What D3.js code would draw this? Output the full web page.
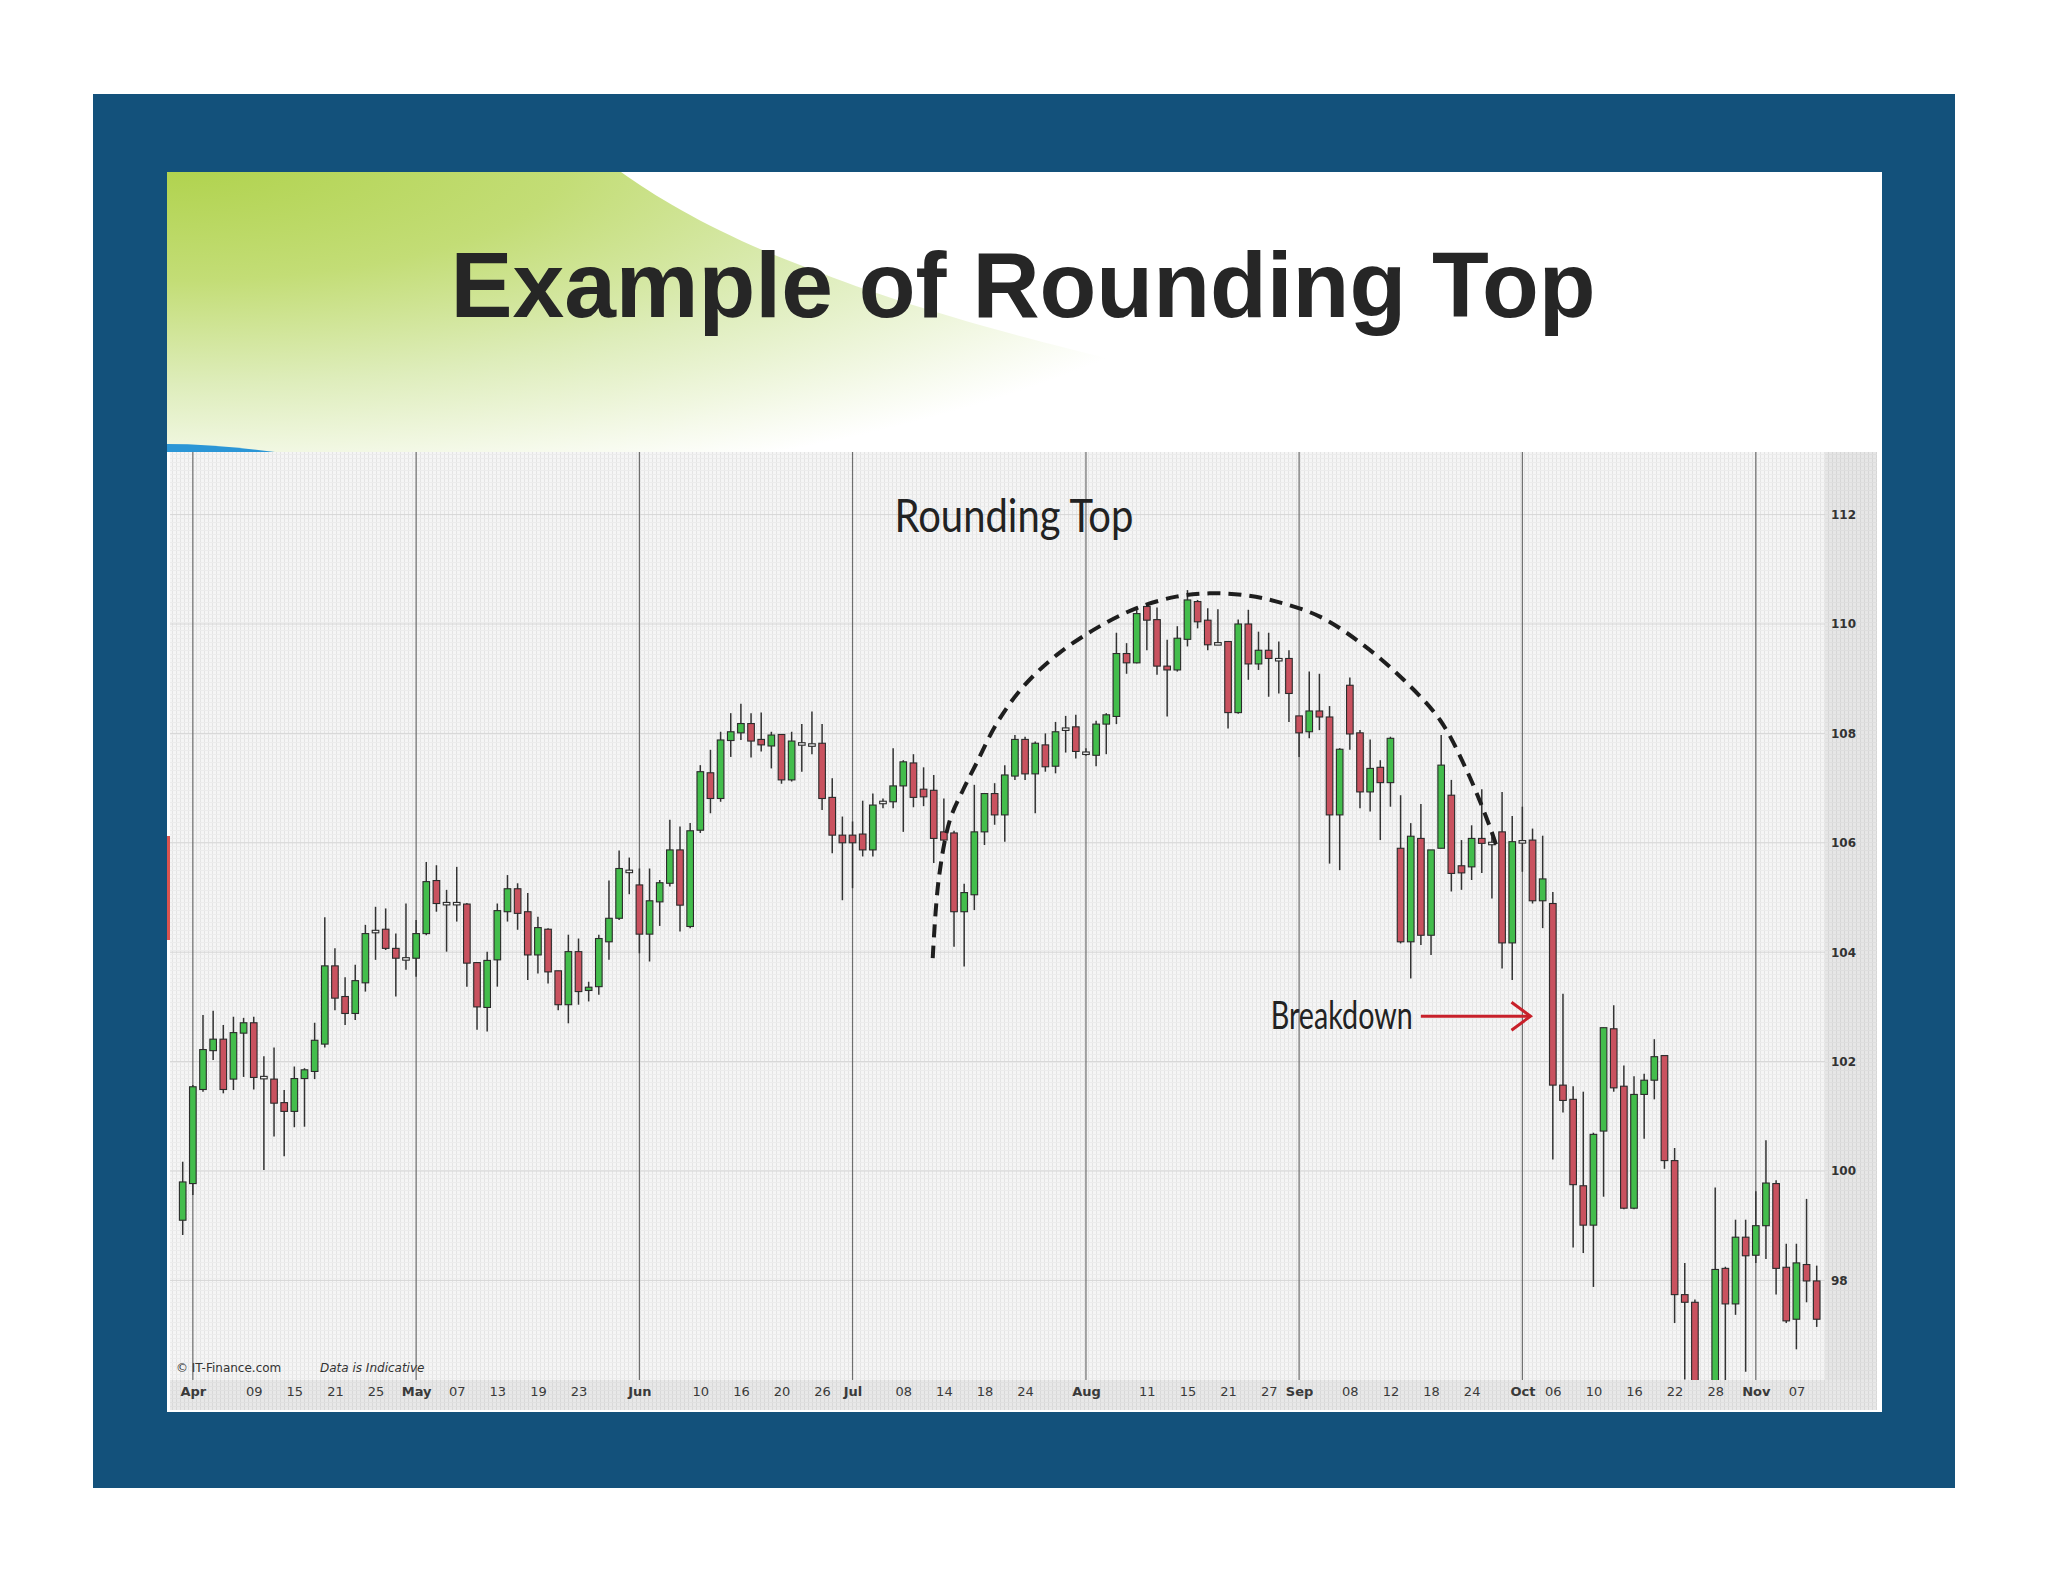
<!DOCTYPE html>
<html><head><meta charset="utf-8">
<script src="https://cdn.jsdelivr.net/npm/d3@7"></script>
<style>html,body{margin:0;padding:0;background:#fff;} svg{display:block;}</style>
</head><body>
<svg id="c" width="2048" height="1582"></svg>
<script>
// ---- data (daily candles, 31 Mar - 11 Nov) ----
const openP = [
99.10,99.77,101.49,102.20,102.41,101.68,102.52,102.71,101.73,101.68,
101.25,101.09,101.69,101.82,102.32,103.75,103.19,102.88,103.44,104.40,
104.42,104.07,103.89,103.89,104.34,105.31,104.90,104.91,104.88,103.81,
102.99,103.86,104.74,105.16,104.74,103.95,104.42,103.66,103.04,104.01,
103.30,103.37,104.19,104.62,105.50,105.23,104.33,104.92,105.26,105.87,
104.47,106.23,107.28,106.81,107.87,108.01,108.18,107.89,107.77,107.98,
107.15,107.82,107.81,107.82,106.83,106.14,106.14,106.16,105.87,106.73,
106.75,107.04,107.46,106.98,106.96,106.20,106.18,104.74,105.05,106.20,
106.90,106.51,107.22,107.89,107.26,107.79,107.40,108.08,108.12,107.66,
107.60,108.17,108.31,109.46,109.29,110.32,110.08,109.23,109.16,109.72,
110.41,110.07,109.66,109.68,108.38,110.00,109.27,109.52,109.37,109.37,
108.32,108.03,108.41,108.30,106.51,108.88,108.01,106.93,107.38,107.10,
105.90,104.19,106.08,104.31,105.90,106.87,105.58,105.56,106.08,106.00,
106.20,104.17,106.04,106.05,104.94,104.89,101.57,101.31,99.73,99.01,
100.73,102.60,101.55,99.32,101.40,101.66,102.11,100.19,97.74,97.60,
95.80,95.90,98.22,97.57,98.79,98.46,99.00,99.77,98.24,97.29,
98.29,97.99];
const highP = [
100.17,101.57,102.85,102.93,102.67,102.82,102.80,102.82,102.10,102.26,
101.48,101.91,101.88,102.71,104.64,104.07,103.54,103.77,104.50,104.83,
104.80,104.34,104.89,104.59,105.65,105.59,105.14,105.56,104.90,103.81,
104.01,104.89,105.41,105.26,105.08,104.65,104.44,103.66,104.32,104.25,
103.46,104.32,105.31,105.86,105.73,105.53,105.53,105.32,106.42,106.30,
106.36,107.42,107.70,108.03,108.37,108.54,108.37,108.38,108.03,107.98,
108.03,108.17,108.40,108.17,107.18,106.48,106.39,106.77,106.90,106.81,
107.73,107.51,107.62,107.38,107.24,106.81,106.22,105.25,107.06,106.90,
107.09,107.42,107.97,107.94,107.85,108.00,108.21,108.32,108.34,107.73,
108.23,108.37,109.84,109.65,110.29,110.35,110.30,109.71,109.96,110.62,
110.44,110.29,110.27,109.68,110.08,110.26,109.86,109.84,109.68,109.52,
108.32,109.13,109.09,108.50,107.73,109.02,108.06,107.89,107.51,107.94,
106.87,106.36,106.71,105.87,107.97,107.15,106.05,106.32,106.98,106.11,
106.93,106.49,106.66,106.26,106.13,105.10,103.24,101.55,101.45,100.70,
102.62,103.03,101.93,101.73,101.78,102.41,102.11,100.42,98.32,97.65,
96.00,99.70,98.25,99.11,99.11,99.63,100.56,99.83,98.67,98.67,
99.49,98.27];
const lowP = [
98.83,99.56,101.45,102.03,101.42,101.48,101.72,101.49,100.02,100.63,
100.27,100.80,100.81,101.68,102.26,102.94,102.67,102.76,103.28,103.86,
104.04,103.19,103.68,103.55,104.31,104.74,104.01,104.56,103.37,102.58,
102.55,103.37,104.56,104.41,103.49,103.61,103.43,102.94,102.70,103.04,
103.10,103.22,103.86,104.59,105.06,103.98,103.83,104.48,105.20,104.38,
104.44,106.18,106.54,106.75,107.57,107.88,107.56,107.67,107.36,107.08,
107.12,107.30,107.62,106.60,105.81,104.95,105.17,105.75,105.75,106.63,
106.63,106.20,106.65,106.67,105.63,105.84,104.10,103.74,104.77,105.96,
106.33,106.02,107.15,107.15,106.54,107.30,107.27,107.65,107.54,107.59,
107.40,107.62,108.17,109.09,109.28,109.52,109.07,108.31,109.13,109.59,
109.92,109.52,109.63,108.09,108.36,108.98,109.16,108.67,108.73,108.21,
107.57,107.91,108.06,105.62,105.50,107.70,106.63,106.57,106.05,106.66,
104.16,103.52,104.13,103.95,105.90,105.11,105.14,105.32,105.45,104.98,
103.70,103.49,105.47,104.89,104.44,100.21,101.07,98.60,98.50,97.88,
99.53,101.45,99.30,99.30,100.59,101.31,100.04,97.22,96.19,95.80,
95.10,95.60,96.00,97.37,96.33,98.32,98.39,97.74,97.22,96.74,
97.60,97.15];
const closeP = [
99.80,101.54,102.22,102.41,101.49,102.53,102.71,101.71,101.70,101.24,
101.09,101.69,101.85,102.39,103.75,103.16,102.88,103.48,104.34,104.38,
104.07,103.89,103.90,104.34,105.29,104.89,104.91,104.90,103.80,103.00,
103.85,104.76,105.16,104.71,103.95,104.45,103.64,103.04,104.01,103.28,
103.36,104.25,104.62,105.53,105.48,104.33,104.94,105.27,105.87,104.86,
106.22,107.30,106.81,107.88,108.03,108.18,107.86,107.79,107.97,107.15,
107.86,107.83,107.80,106.81,106.14,106.00,106.00,105.87,106.69,106.76,
107.04,107.48,106.83,106.84,106.08,106.05,104.74,105.09,106.20,106.90,
106.51,107.24,107.89,107.26,107.82,107.39,108.03,108.10,107.67,107.65,
108.17,108.34,109.46,109.29,110.19,110.07,109.23,109.16,109.74,110.44,
110.04,109.62,109.65,108.38,110.00,109.27,109.52,109.37,109.36,108.73,
108.01,108.41,108.30,106.51,107.71,107.99,106.93,107.36,107.10,107.91,
104.19,106.12,104.31,105.87,107.42,105.44,105.45,106.08,105.99,106.01,
104.17,106.02,106.03,104.94,105.34,101.57,101.29,99.75,99.01,100.67,
102.62,101.52,99.32,101.40,101.66,102.09,100.19,97.74,97.60,96.00,
95.40,98.20,97.57,98.79,98.45,99.00,99.78,98.22,97.26,98.32,
97.99,97.29];

const tickIdx = [1,7,11,15,19,23,27,31,35,39,45,51,55,59,63,66,71,75,79,83,89,95,99,103,107,110,115,119,123,127,132,135,139,143,147,151,155,159];
const tickLabels = ["Apr","09","15","21","25","May","07","13","19","23","Jun","10","16","20","26","Jul","08","14","18","24","Aug","11","15","21","27","Sep","08","12","18","24","Oct","06","10","16","22","28","Nov","07"];
const monthIdx = [1,23,45,66,89,110,132,155];
const priceTicks = [98,100,102,104,106,108,110,112];

// rounding-top arc annotation (candle index, price)
const arcIdx =   [73.9, 74.5, 75.6, 76.9, 78.2, 80.2, 82.8, 86.1, 90.0, 94.0, 97.9, 101.2, 104.5, 107.8, 112.1, 116.3, 120.3, 123.9, 126.5, 128.8, 129.6];
const arcPrice = [103.89,105.35,106.42,106.97,107.45,108.18,108.85,109.43,109.92,110.29,110.50,110.56,110.53,110.41,110.13,109.62,108.98,108.24,107.33,106.29,105.85];

// ---- layout ----
const svg = d3.select("#c");
const W = 2048, H = 1582;
const plot = {left:170, right:1825, top:452, bottom:1380};

const x = d3.scaleLinear().domain([0, openP.length - 1]).range([182.7, 1816.7]);
const y = d3.scaleLinear().domain([96, 112]).range([1389.8, 514.6]);

const defs = svg.append("defs");
const pat = defs.append("pattern").attr("id","tex").attr("patternUnits","userSpaceOnUse")
  .attr("width",4).attr("height",4);
pat.append("rect").attr("width",4).attr("height",4).attr("fill","#f5f5f5");
pat.append("line").attr("x1",0.5).attr("x2",0.5).attr("y1",0).attr("y2",4).attr("stroke","#e4e4e4").attr("stroke-width",1);
pat.append("line").attr("x1",0).attr("x2",4).attr("y1",2.5).attr("y2",2.5).attr("stroke","#ececec").attr("stroke-width",1);

const grad = defs.append("radialGradient").attr("id","green").attr("gradientUnits","userSpaceOnUse")
  .attr("cx",167).attr("cy",160).attr("r",1150)
  .attr("gradientTransform","translate(167,160) scale(1,0.3) translate(-167,-160)");
grad.append("stop").attr("offset",0).attr("stop-color","#afd24b");
grad.append("stop").attr("offset",0.35).attr("stop-color","#c3dd76");
grad.append("stop").attr("offset",0.65).attr("stop-color","#deedbb");
grad.append("stop").attr("offset",0.9).attr("stop-color","#f6faec");
grad.append("stop").attr("offset",1).attr("stop-color","#ffffff");

defs.append("clipPath").attr("id","plotclip").append("rect")
  .attr("x",plot.left).attr("y",plot.top).attr("width",plot.right-plot.left).attr("height",plot.bottom-plot.top);

// frame
svg.append("rect").attr("width",W).attr("height",H).attr("fill","#fff");
svg.append("rect").attr("x",93).attr("y",94).attr("width",1862).attr("height",1394).attr("fill","#13517b");
svg.append("rect").attr("x",167).attr("y",172).attr("width",1715).attr("height",1240).attr("fill","#fff");

// green header swoosh
svg.append("path")
  .attr("d","M167,172 L621,172 C660,200 720,235 800,265 C900,305 1050,350 1290,398 C1350,412 1400,430 1450,452 L167,452 Z")
  .attr("fill","url(#green)");
svg.append("path").attr("d","M167,444 Q215,444 275,452 L167,452 Z").attr("fill","#2b96d6");

// title
svg.append("text").attr("x",1023).attr("y",316.5).attr("text-anchor","middle")
  .attr("font-family","'Liberation Sans', Arial, sans-serif").attr("font-weight","bold")
  .attr("font-size",93).attr("fill","#262626").text("Example of Rounding Top");

// chart background
svg.append("rect").attr("x",170).attr("y",452).attr("width",1707).attr("height",958).attr("fill","url(#tex)");
svg.append("rect").attr("x",plot.right).attr("y",452).attr("width",1877-plot.right).attr("height",928)
  .attr("fill","#000").attr("opacity",0.06);
svg.append("rect").attr("x",170).attr("y",plot.bottom).attr("width",1707).attr("height",30)
  .attr("fill","#000").attr("opacity",0.05);
svg.append("rect").attr("x",167).attr("y",836).attr("width",3).attr("height",104).attr("fill","#d9534f");

const g = svg.append("g").attr("clip-path","url(#plotclip)");

// gridlines
g.selectAll("line.hg").data(priceTicks).join("line").attr("class","hg")
  .attr("x1",plot.left).attr("x2",plot.right).attr("y1",d=>y(d)).attr("y2",d=>y(d))
  .attr("stroke","#d6d6d6").attr("stroke-width",1);
g.selectAll("line.vg").data(monthIdx).join("line").attr("class","vg")
  .attr("x1",d=>x(d)).attr("x2",d=>x(d)).attr("y1",plot.top).attr("y2",plot.bottom)
  .attr("stroke","#6e6e6e").attr("stroke-width",1.2);

// candles
const candles = d3.range(openP.length).map(i => ({i, o:openP[i], h:highP[i], l:lowP[i], c:closeP[i]}));
const bw = 6.6;
const cg = g.selectAll("g.cd").data(candles).join("g").attr("class","cd");
cg.append("line").attr("x1",d=>x(d.i)).attr("x2",d=>x(d.i))
  .attr("y1",d=>y(d.h)).attr("y2",d=>y(d.l)).attr("stroke","#333").attr("stroke-width",1.5);
cg.append("rect")
  .attr("x",d=>x(d.i)-bw/2).attr("width",bw)
  .attr("y",d=>y(Math.max(d.o,d.c)))
  .attr("height",d=>Math.max(2.5, Math.abs(y(d.o)-y(d.c))))
  .attr("fill",d=> Math.abs(d.c-d.o) < 0.05 ? "#f2f2f2" : (d.c >= d.o ? "#43bd4c" : "#c9525f"))
  .attr("stroke","#2b2b2b").attr("stroke-width",1.1);

// rounding-top arc
const arcPts = arcIdx.map((v,k)=>[v, arcPrice[k]]);
g.append("path").datum(arcPts)
  .attr("d", d3.line().x(d=>x(d[0])).y(d=>y(d[1])).curve(d3.curveCatmullRom.alpha(0.5)))
  .attr("fill","none").attr("stroke","#1e1e1e").attr("stroke-width",4).attr("stroke-dasharray","13,8");

// annotations
svg.append("text").attr("x",x(81.9)).attr("y",y(111.69)).attr("text-anchor","middle")
  .attr("font-family","Lato, 'Open Sans', sans-serif").attr("font-size",46).attr("fill","#222")
  .attr("textLength",239).attr("lengthAdjust","spacingAndGlyphs").text("Rounding Top");
svg.append("text").attr("x",x(121.2)).attr("y",y(102.6)).attr("text-anchor","end")
  .attr("font-family","Lato, 'Open Sans', sans-serif").attr("font-size",38).attr("fill","#222")
  .attr("textLength",142).attr("lengthAdjust","spacingAndGlyphs").text("Breakdown");
const ay = y(102.83), ax0 = x(122.0), ax1 = x(132.8);
svg.append("line").attr("x1",ax0).attr("x2",ax1).attr("y1",ay).attr("y2",ay)
  .attr("stroke","#c8202a").attr("stroke-width",3);
svg.append("path").attr("d",`M${ax1-19},${ay-14} L${ax1},${ay} L${ax1-19},${ay+14}`)
  .attr("fill","none").attr("stroke","#c8202a").attr("stroke-width",3);

// axes
const xAxis = d3.axisBottom(x).tickValues(tickIdx).tickSize(0).tickPadding(6)
  .tickFormat((d,k)=>tickLabels[k]);
const xa = svg.append("g").attr("transform",`translate(0,${plot.bottom+1})`).call(xAxis);
xa.select(".domain").remove();
xa.selectAll("text").attr("font-family","'DejaVu Sans', Verdana, sans-serif").attr("font-size",13)
  .attr("fill","#3a3a3a")
  .attr("font-weight",(d,k)=> /[A-Za-z]/.test(tickLabels[k]) ? "bold" : "normal");

const yAxis = d3.axisRight(y).tickValues(priceTicks).tickSize(0).tickPadding(0);
const ya = svg.append("g").attr("transform",`translate(1831,0)`).call(yAxis);
ya.select(".domain").remove();
ya.selectAll("text").attr("font-family","'DejaVu Sans', Verdana, sans-serif").attr("font-size",12)
  .attr("font-weight","bold").attr("fill","#333");

// credit line
const cr = svg.append("text").attr("x",176).attr("y",1372)
  .attr("font-family","'DejaVu Sans', Verdana, sans-serif").attr("font-size",12).attr("fill","#333");
cr.append("tspan").text("© IT-Finance.com");
cr.append("tspan").attr("x",320).attr("font-style","italic").text("Data is Indicative");
</script>
</body></html>
